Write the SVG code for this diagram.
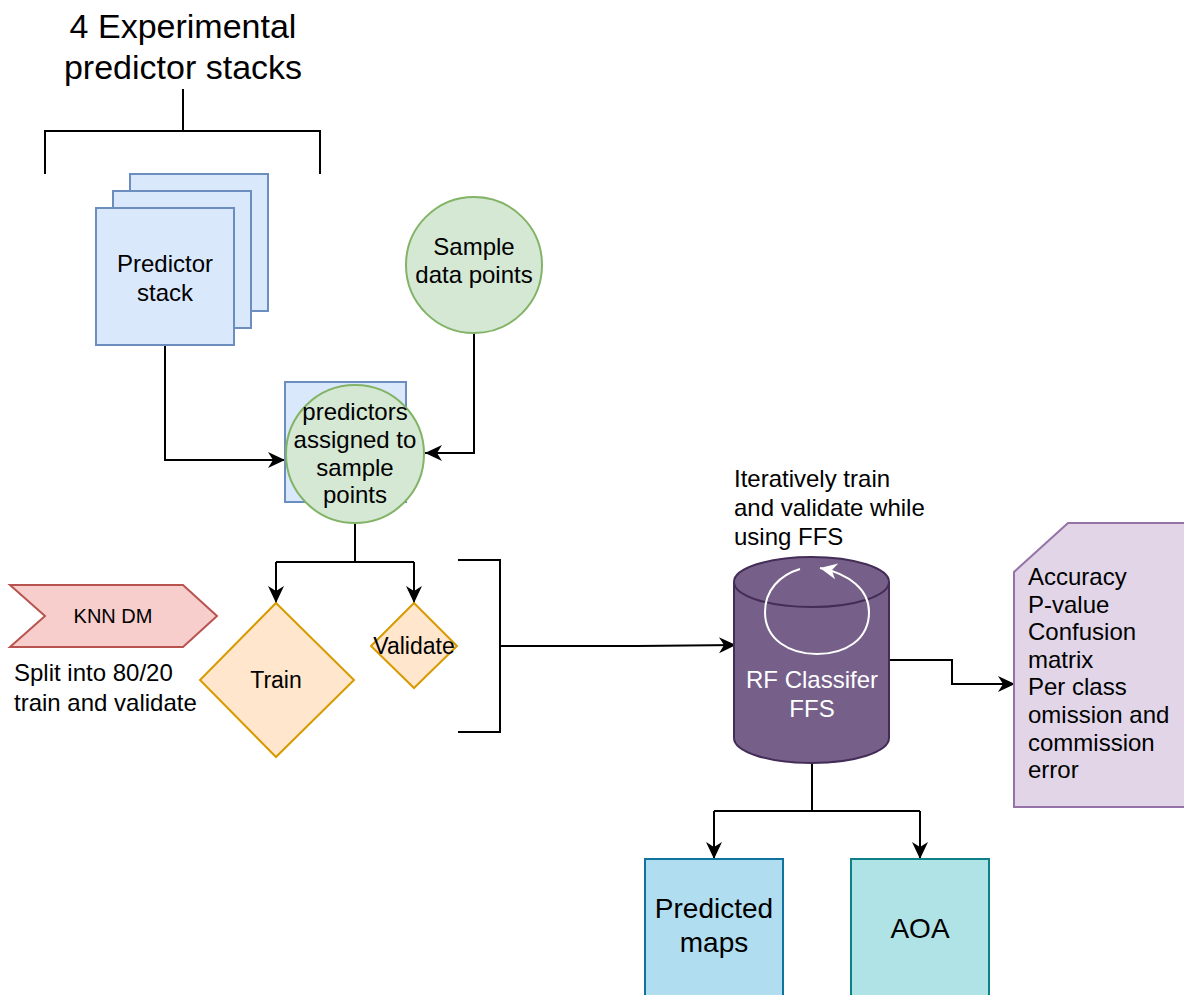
<svg xmlns="http://www.w3.org/2000/svg" width="1184" height="995" viewBox="0 0 1184 995">
<style>
text{font-family:"Liberation Sans",Arial,sans-serif;fill:#000;}
.t24{font-size:24px;}
.c{text-anchor:middle;}
.ln{fill:none;stroke:#000;stroke-width:2;}
.blue{fill:#dae8fc;stroke:#6c8ebf;stroke-width:2;}
.green{fill:#d5e8d4;stroke:#82b366;stroke-width:2;}
.orange{fill:#ffe6cc;stroke:#d79b00;stroke-width:2;}
</style>
<defs>
<marker id="arr" markerUnits="userSpaceOnUse" markerWidth="20" markerHeight="18" refX="17" refY="8" orient="auto" overflow="visible">
<path d="M0,0 L17,8 L0,16 L5,8 Z" fill="#000"/>
</marker>
<marker id="warr" markerUnits="userSpaceOnUse" markerWidth="20" markerHeight="18" refX="17" refY="8" orient="auto" overflow="visible">
<path d="M0,0 L17,8 L0,16 L5,8 Z" fill="#fff"/>
</marker>
</defs>
<rect width="1184" height="995" fill="#fff"/>

<g id="title">
<text x="183" y="38" class="c" font-size="34">4 Experimental</text>
<text x="183" y="79" class="c" font-size="34">predictor stacks</text>
</g>

<g id="connectors">
<path class="ln" d="M183,89 L183,131 M45,174 L45,131 L320,131 L320,174"/>
<path class="ln" d="M165,345 L165,460 L285,460" marker-end="url(#arr)"/>
<path class="ln" d="M474,332 L474,453 L425,453" marker-end="url(#arr)"/>
<path class="ln" d="M355,523 L355,562 M276,562 L414,562"/>
<path class="ln" d="M276,562 L276,603" marker-end="url(#arr)"/>
<path class="ln" d="M414,562 L414,603" marker-end="url(#arr)"/>
<path class="ln" d="M458,560 L500,560 L500,732 L458,732"/>
<path class="ln" d="M500,646 L638,646 L736,645" marker-end="url(#arr)"/>
<path class="ln" d="M889,660 L952,660 L952,684 L1015,684" marker-end="url(#arr)"/>
<path class="ln" d="M812,763 L812,811 M714,811 L920,811"/>
<path class="ln" d="M714,811 L714,859" marker-end="url(#arr)"/>
<path class="ln" d="M920,811 L920,859" marker-end="url(#arr)"/>
</g>

<g id="predictor-stack">
<rect class="blue" x="130" y="174" width="138" height="137"/>
<rect class="blue" x="113" y="191" width="138" height="137"/>
<rect class="blue" x="96" y="208" width="138" height="137"/>
<text x="165" y="272" class="t24 c">Predictor</text>
<text x="165" y="301" class="t24 c">stack</text>
</g>

<g id="sample-data-points">
<circle class="green" cx="474" cy="265" r="68"/>
<text x="474" y="255" class="t24 c">Sample</text>
<text x="474" y="283" class="t24 c">data points</text>
</g>

<g id="predictors-assigned">
<rect class="blue" x="285" y="382" width="121" height="120"/>
<circle class="green" cx="355" cy="454" r="69"/>
<text x="355" y="420" class="t24 c">predictors</text>
<text x="355" y="448" class="t24 c">assigned to</text>
<text x="355" y="476" class="t24 c">sample</text>
<text x="355" y="503" class="t24 c">points</text>
</g>

<g id="knn-dm">
<polygon points="10,585 183,585 217,616 183,647 10,647 45,616" fill="#f8cecc" stroke="#b85450" stroke-width="2"/>
<text x="113" y="623" class="c" font-size="20">KNN DM</text>
</g>

<g id="split-label">
<text x="14" y="681" class="t24">Split into 80/20</text>
<text x="14" y="711" class="t24">train and validate</text>
</g>

<g id="train">
<polygon class="orange" points="276,603 354,680 276,757 200,680"/>
<text x="276" y="688" class="c" font-size="23">Train</text>
</g>

<g id="validate">
<polygon class="orange" points="414,603 457,646 414,688 371,646"/>
<text x="414" y="654" class="c" font-size="23">Validate</text>
</g>

<g id="iterative-label">
<text x="734" y="487" class="t24">Iteratively train</text>
<text x="734" y="516" class="t24">and validate while</text>
<text x="734" y="545" class="t24">using FFS</text>
</g>

<g id="rf-classifier">
<path d="M734,582 A77.5,25 0 0 1 889,582 L889,738 A77.5,25 0 0 1 734,738 Z" fill="#76608a" stroke="#432d57" stroke-width="2"/>
<path d="M734,582 A77.5,25 0 0 0 889,582" fill="none" stroke="#432d57" stroke-width="2"/>
<path d="M800,569 C780,575 765,590 765,612 C765,640 790,654 817,654 C845,654 869,640 869,612 C869,590 850,574 820,568" fill="none" stroke="#fff" stroke-width="2" marker-end="url(#warr)"/>
<text x="812" y="688" class="t24 c" style="fill:#fff">RF Classifer</text>
<text x="812" y="717" class="t24 c" style="fill:#fff">FFS</text>
</g>

<g id="metrics">
<polygon points="1014,572 1068,523 1192,523 1192,807 1014,807" fill="#e1d5e7" stroke="#9673a6" stroke-width="2"/>
<text class="t24" x="1028" y="585">Accuracy</text>
<text class="t24" x="1028" y="613">P-value</text>
<text class="t24" x="1028" y="640">Confusion</text>
<text class="t24" x="1028" y="668">matrix</text>
<text class="t24" x="1028" y="695">Per class</text>
<text class="t24" x="1028" y="723">omission and</text>
<text class="t24" x="1028" y="751">commission</text>
<text class="t24" x="1028" y="778">error</text>
</g>

<g id="predicted-maps">
<rect x="645" y="859" width="138" height="145" fill="#b1ddf0" stroke="#10739e" stroke-width="2"/>
<text x="714" y="918" class="c" font-size="28">Predicted</text>
<text x="714" y="952" class="c" font-size="28">maps</text>
</g>

<g id="aoa">
<rect x="851" y="859" width="138" height="145" fill="#b0e3e6" stroke="#0e8088" stroke-width="2"/>
<text x="920" y="938" class="c" font-size="28">AOA</text>
</g>
</svg>
